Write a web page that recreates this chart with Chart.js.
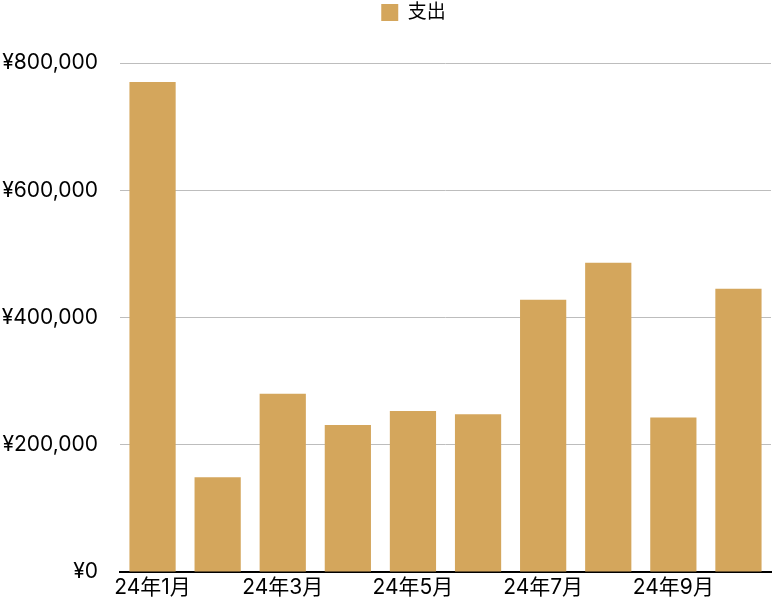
<!DOCTYPE html>
<html>
<head>
<meta charset="utf-8">
<script src="https://cdn.jsdelivr.net/npm/chart.js@4"></script>
<style>
html,body{margin:0;padding:0;background:#fff;}
#wrap{width:774px;height:600px;position:relative;}
</style>
</head>
<body>
<div id="wrap"><canvas id="c"></canvas></div>
<script>
const categories = ["24年1月","24年2月","24年3月","24年4月","24年5月","24年6月","24年7月","24年8月","24年9月","24年10月"];
const seriesName = "支出";
const expenses = [770000,149000,280000,231000,253000,248000,428000,486000,243000,445000];
const yTicks = [0,200000,400000,600000,800000];

const FONT = 'Inter, "Noto Sans CJK JP", sans-serif';
const barColor = 'rgb(212,166,92)';

const legendSpace = {
  id: 'legendSpace',
  beforeInit(chart) {
    const lg = chart.legend;
    const origFit = lg.fit;
    lg.fit = function() {
      origFit.call(this);
      this.height += 31;
    };
  },
  afterLayout(chart) {
    chart.legend.left += 28;
    chart.legend.right += 28;
  }
};

new Chart(document.getElementById('c'), {
  type: 'bar',
  data: {
    labels: categories,
    datasets: [{
      label: seriesName,
      data: expenses,
      backgroundColor: barColor,
      borderWidth: 0,
      barPercentage: 0.71,
      categoryPercentage: 1.0
    }]
  },
  plugins: [legendSpace],
  options: {
    responsive: true,
    maintainAspectRatio: false,
    animation: false,
    layout: { padding: { left: 0, right: 3, top: 0, bottom: 0 } },
    plugins: {
      legend: {
        display: true,
        position: 'top',
        labels: {
          boxWidth: 17,
          boxHeight: 17,
          padding: 3,
          color: '#000',
          font: { family: FONT, size: 19 }
        }
      },
      tooltip: { enabled: false }
    },
    scales: {
      x: {
        grid: { display: false, drawTicks: false },
        border: { display: true, color: '#000', width: 2 },
        afterFit: function(axis) { axis.height = 28; },
        ticks: {
          autoSkip: false,
          maxRotation: 0,
          minRotation: 0,
          padding: 3,
          color: '#000',
          font: { family: FONT, size: 21 },
          callback: function(v, i) { return i % 2 === 0 ? categories[i] : ''; }
        }
      },
      y: {
        min: 0,
        max: 800000,
        afterBuildTicks: function(axis) { axis.ticks = yTicks.map(v => ({ value: v })); },
        afterFit: function(axis) { axis.width = 120; axis.paddingTop = 0; axis.paddingBottom = 0; },
        grid: { color: '#bdbdbd', lineWidth: 1, drawTicks: false },
        border: { display: false },
        ticks: {
          padding: 22,
          color: '#000',
          font: { family: FONT, size: 21 },
          callback: function(v) { return '¥' + Number(v).toLocaleString('en-US'); }
        }
      }
    }
  }
});
</script>
</body>
</html>
